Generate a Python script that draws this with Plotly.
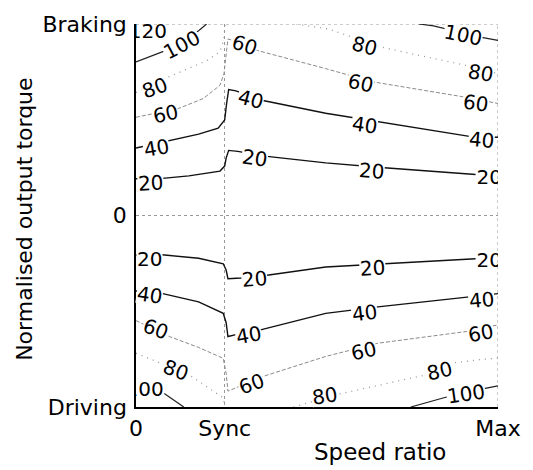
import plotly.graph_objects as go

# ---------------- data ----------------
SYNC = 0.245
x_tick_vals = [0, SYNC, 1]
x_tick_text = ["0", "Sync", "Max"]
y_tick_vals = [-1, 0, 1]
y_tick_text = ["Driving", "0", "Braking"]

# Braking half (positive torque) contour lines
u20_x = [0, 0.073, 0.146, 0.232, 0.245, 0.249, 0.256, 0.281, 0.362, 0.524, 0.686, 0.938]
u20_y = [0.192, 0.194, 0.207, 0.232, 0.258, 0.300, 0.340, 0.335, 0.309, 0.275, 0.249, 0.214]
u40_x = [0, 0.083, 0.173, 0.227, 0.245, 0.250, 0.256, 0.276, 0.344, 0.524, 0.668, 0.921, 1.0]
u40_y = [0.352, 0.387, 0.425, 0.456, 0.499, 0.580, 0.658, 0.651, 0.603, 0.534, 0.491, 0.413, 0.409]
u60_x = [0, 0.119, 0.186, 0.232, 0.243, 0.254, 0.281, 0.335, 0.524, 0.654, 0.903, 1.0]
u60_y = [0.513, 0.560, 0.611, 0.680, 0.741, 0.922, 0.907, 0.862, 0.767, 0.698, 0.620, 0.585]
u80a_x = [0, 0.092, 0.195, 0.232, 0.243, 0.246]
u80a_y = [0.642, 0.725, 0.808, 0.855, 0.922, 1.0]
u80b_x = [0.443, 0.532, 0.678, 0.911, 1.0]
u80b_y = [1.0, 0.974, 0.879, 0.784, 0.741]
u100a_x = [0, 0.083, 0.173, 0.195]
u100a_y = [0.802, 0.862, 0.965, 1.0]
u100b_x = [0.781, 0.822, 0.951, 1.0]
u100b_y = [1.0, 0.990, 0.931, 0.914]

# Driving half (negative torque) contour lines
l20_x = [0, 0.065, 0.173, 0.241, 0.249, 0.254, 0.290, 0.362, 0.524, 0.686, 0.938]
l20_y = [-0.207, -0.204, -0.223, -0.252, -0.285, -0.330, -0.326, -0.312, -0.269, -0.252, -0.226]
l40_x = [0, 0.065, 0.173, 0.241, 0.249, 0.254, 0.276, 0.344, 0.524, 0.668, 0.921, 1.0]
l40_y = [-0.394, -0.404, -0.451, -0.511, -0.560, -0.632, -0.622, -0.597, -0.511, -0.477, -0.425, -0.408]
l60_x = [0, 0.092, 0.173, 0.241, 0.249, 0.254, 0.281, 0.353, 0.524, 0.668, 0.912, 1.0]
l60_y = [-0.549, -0.632, -0.689, -0.746, -0.824, -0.917, -0.896, -0.839, -0.736, -0.667, -0.606, -0.571]
l80a_x = [0, 0.146, 0.241, 0.246]
l80a_y = [-0.719, -0.831, -0.952, -1.0]
l80b_x = [0.435, 0.556, 0.804, 0.876, 0.948, 1.0]
l80b_y = [-1.0, -0.934, -0.831, -0.770, -0.753, -0.745]
l100a_x = [0.078, 0.132]
l100a_y = [-0.930, -1.0]
l100b_x = [0.759, 0.858, 0.961, 1.0]
l100b_y = [-1.0, -0.948, -0.904, -0.890]

lines = [
    (20, u20_x, u20_y), (40, u40_x, u40_y), (60, u60_x, u60_y),
    (80, u80a_x, u80a_y), (80, u80b_x, u80b_y),
    (100, u100a_x, u100a_y), (100, u100b_x, u100b_y),
    (20, l20_x, l20_y), (40, l40_x, l40_y), (60, l60_x, l60_y),
    (80, l80a_x, l80a_y), (80, l80b_x, l80b_y),
    (100, l100a_x, l100a_y), (100, l100b_x, l100b_y),
]

# contour labels: level text, x, y
label_text = ["120", "100", "80", "60", "40", "20",
              "60", "40", "20", "80", "60", "40", "20",
              "100", "80", "60", "40", "20",
              "20", "40", "60", "80", "100",
              "20", "40", "60", "80",
              "20", "40", "60", "80", "100",
              "20", "40", "60"]
label_x = [0.033, 0.126, 0.051, 0.082, 0.057, 0.040,
           0.299, 0.315, 0.326, 0.632, 0.619, 0.632, 0.651,
           0.903, 0.953, 0.939, 0.955, 0.976,
           0.036, 0.036, 0.055, 0.109, 0.024,
           0.328, 0.312, 0.318, 0.520,
           0.653, 0.631, 0.628, 0.839, 0.911,
           0.976, 0.955, 0.953]
label_y = [0.955, 0.889, 0.668, 0.528, 0.350, 0.172,
           0.891, 0.606, 0.298, 0.886, 0.694, 0.472, 0.233,
           0.940, 0.746, 0.585, 0.396, 0.189,
           -0.225, -0.417, -0.593, -0.808, -0.917,
           -0.334, -0.624, -0.881, -0.940,
           -0.275, -0.510, -0.705, -0.813, -0.933,
           -0.244, -0.443, -0.611]
label_angle = [0, -28, -20, -12, -10, -3,
               18, 15, 8, 15, 12, 8, 4,
               12, 10, 8, 5, 0,
               0, 8, 20, 20, 0,
               -5, -10, -20, -8,
               -3, -7, -12, -13, -8,
               0, -5, -10]
clipped = [0, 17, 22, 32]  # labels cut by the plot frame

# ---------------- styles ----------------
FONT = "DejaVu Sans"
style = {
    20: dict(color="#111111", width=1.4, dash="solid"),
    40: dict(color="#111111", width=1.4, dash="solid"),
    60: dict(color="#8a8a8a", width=1.0, dash="4px,2px"),
    80: dict(color="#9a9a9a", width=1.3, dash="1px,5px"),
    100: dict(color="#222222", width=1.2, dash="solid"),
}
GRID = dict(color="#999999", width=1, dash="3px,3px")

fig = go.Figure()
for lvl, xs, ys in lines:
    fig.add_trace(go.Scatter(x=xs, y=ys, mode="lines", line=style[lvl],
                             hoverinfo="skip", showlegend=False))

# clipped labels as text (clipped to plot area)
fig.add_trace(go.Scatter(
    x=[label_x[i] for i in clipped], y=[label_y[i] for i in clipped],
    text=[label_text[i] for i in clipped], mode="text",
    textposition="middle center", cliponaxis=True,
    textfont=dict(family=FONT, size=20, color="black"),
    hoverinfo="skip", showlegend=False))

annotations = []
for i, (t, x, y, a) in enumerate(zip(label_text, label_x, label_y, label_angle)):
    if i in clipped:
        continue
    annotations.append(dict(x=x, y=y, xref="x", yref="y", text=t, showarrow=False,
                            textangle=a, bgcolor="white", borderpad=0, height=18,
                            xanchor="center", yanchor="middle",
                            font=dict(family=FONT, size=20, color="black")))

annotations.append(dict(x=0.673, y=-0.117, xref="paper", yref="paper",
                        text="Speed ratio", showarrow=False,
                        xanchor="center", yanchor="middle",
                        font=dict(family=FONT, size=23, color="black")))
annotations.append(dict(x=-0.308, y=0.49, xref="paper", yref="paper",
                        text="Normalised output torque", showarrow=False,
                        textangle=-90, xanchor="center", yanchor="middle",
                        font=dict(family=FONT, size=22, color="black")))

# dotted frame on top/right (grid lines at the last ticks)
shapes = [
    dict(type="line", xref="x", yref="y", x0=x_tick_vals[0], x1=x_tick_vals[-1],
         y0=y_tick_vals[-1], y1=y_tick_vals[-1], line=GRID, layer="below"),
    dict(type="line", xref="x", yref="y", x0=x_tick_vals[-1], x1=x_tick_vals[-1],
         y0=y_tick_vals[0], y1=y_tick_vals[-1], line=GRID, layer="below"),
]

fig.update_layout(
    width=533, height=470,
    margin=dict(l=136, r=27, t=20, b=63),
    paper_bgcolor="white", plot_bgcolor="white",
    font=dict(family=FONT, size=22, color="black"),
    annotations=annotations, shapes=shapes,
    xaxis=dict(range=[0, 1], tickvals=x_tick_vals, ticktext=x_tick_text,
               showgrid=True, gridcolor=GRID["color"], griddash=GRID["dash"], gridwidth=1,
               zeroline=False, showline=True, linecolor="black", linewidth=1.5,
               ticks="", ticklabelstandoff=1,
               tickfont=dict(family=FONT, size=22, color="black")),
    yaxis=dict(range=[-1, 1], tickvals=y_tick_vals, ticktext=y_tick_text,
               showgrid=True, gridcolor=GRID["color"], griddash=GRID["dash"], gridwidth=1,
               zeroline=False, showline=True, linecolor="black", linewidth=1.5,
               ticks="", ticklabelstandoff=3,
               tickfont=dict(family=FONT, size=22, color="black")),
)

fig.write_html("out.html")
